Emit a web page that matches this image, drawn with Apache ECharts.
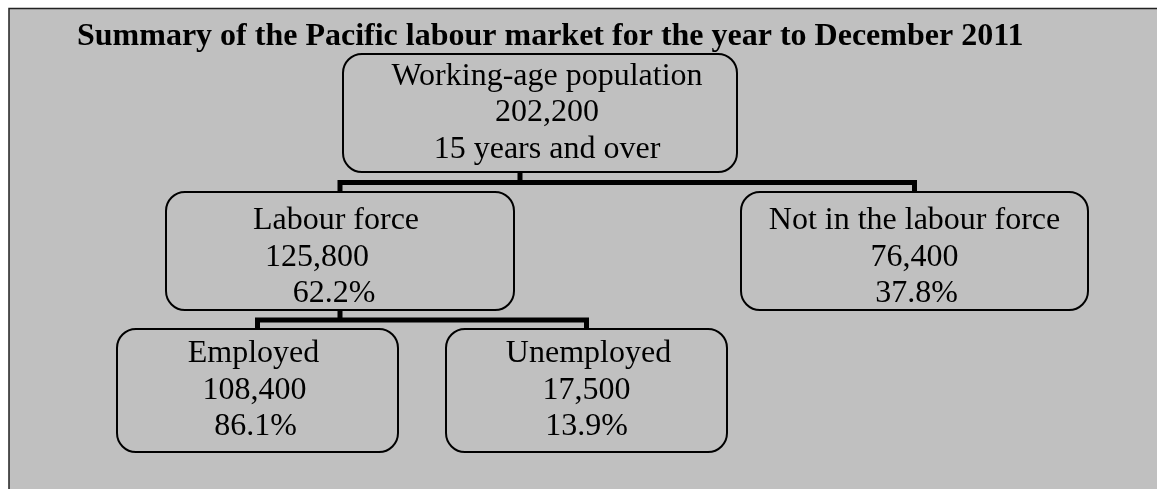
<!DOCTYPE html>
<html>
<head>
<meta charset="utf-8">
<style>
html,body{margin:0;padding:0;background:#ffffff;}
#chart{width:1157px;height:489px;}
</style>
<script src="https://cdn.jsdelivr.net/npm/echarts@6/dist/echarts.min.js"></script>
</head>
<body>
<div id="chart"></div>
<script>
// ---------- data ----------
const titleText = 'Summary of the Pacific labour market for the year to December 2011';
const nodeNames = ['Working-age population', 'Labour force', 'Not in the labour force', 'Employed', 'Unemployed'];
const nodeValues = [202200, 125800, 76400, 108400, 17500];
const nodeShares = [null, 62.2, 37.8, 86.1, 13.9];
const rootNote = '15 years and over';
const nodeParents = [-1, 0, 0, 1, 1];

// ---------- layout (diagram units = panel pixels) ----------
const layout = {
  boxes: [[343, 54, 737, 172], [166, 192, 514, 310], [741, 192, 1088, 310], [117, 329, 398, 452], [446, 329, 727, 452]],
  textDx: [[7, 7, 7], [-4, -23, -6], [0, 0, 2], [-4, -3, -2], [2, 0, 0]],
  textDy: [0, 6.5, 6.5, 0, 0],
  lineGap: 36.5,
  stubX: {0: 520, 1: 340},
  busY: {0: 182.5, 1: 320}
};

function fmt(v) { return v.toLocaleString('en-US'); }
function nodeLines(i) {
  return [nodeNames[i], fmt(nodeValues[i]), i === 0 ? rootNote : nodeShares[i].toFixed(1) + '%'];
}

const boxData = nodeNames.map((n, i) => [i, 0]);
const parentData = [];
nodeParents.forEach((p) => { if (p >= 0 && !parentData.some(d => d[0] === p)) parentData.push([p, 0]); });

const chart = echarts.init(document.getElementById('chart'), null, {renderer: 'canvas'});
const FONT = '"Liberation Serif", "Times New Roman", serif';

chart.setOption({
  animation: false,
  backgroundColor: '#ffffff',
  graphic: [{
    type: 'rect', z: -10, silent: true,
    shape: {x: 9, y: 8.5, width: 1160, height: 490},
    style: {fill: '#c0c0c0', stroke: '#222222', lineWidth: 1.5}
  }],
  title: {
    text: titleText, left: 72, top: 16,
    textStyle: {fontFamily: FONT, fontWeight: 'bold', fontSize: 32, color: '#000000'}
  },
  grid: {left: 0, right: 0, top: 0, bottom: 0},
  xAxis: {type: 'value', min: 0, max: 1157, show: false},
  yAxis: {type: 'value', min: 0, max: 489, inverse: true, show: false},
  series: [
    {
      type: 'custom', name: 'connectors', coordinateSystem: 'cartesian2d', clip: false, silent: true, z: 2,
      data: parentData,
      renderItem: function (params, api) {
        const p = api.value(0);
        const pb = layout.boxes[p];
        const kids = nodeParents.map((q, i) => q === p ? i : -1).filter(i => i >= 0);
        const busY = layout.busY[p];
        const stubX = layout.stubX[p];
        const xs = kids.map(k => (layout.boxes[k][0] + layout.boxes[k][2]) / 2);
        const children = [];
        const s1 = api.coord([stubX, pb[3]]);
        const s2 = api.coord([stubX, busY]);
        children.push({type: 'line', shape: {x1: s1[0], y1: s1[1], x2: s2[0], y2: s2[1]},
          style: {stroke: '#000', lineWidth: 5, lineCap: 'butt'}});
        const pts = [];
        const first = kids[0], last = kids[kids.length - 1];
        pts.push(api.coord([xs[0], layout.boxes[first][1]]));
        pts.push(api.coord([xs[0], busY]));
        pts.push(api.coord([xs[xs.length - 1], busY]));
        pts.push(api.coord([xs[xs.length - 1], layout.boxes[last][1]]));
        children.push({type: 'polyline', shape: {points: pts},
          style: {stroke: '#000', fill: null, lineWidth: 5, lineJoin: 'miter', lineCap: 'butt'}});
        for (let j = 1; j < kids.length - 1; j++) {
          const a = api.coord([xs[j], busY]);
          const b = api.coord([xs[j], layout.boxes[kids[j]][1]]);
          children.push({type: 'line', shape: {x1: a[0], y1: a[1], x2: b[0], y2: b[1]},
            style: {stroke: '#000', lineWidth: 5}});
        }
        return {type: 'group', children: children};
      }
    },
    {
      type: 'custom', name: 'boxes', coordinateSystem: 'cartesian2d', clip: false, silent: true, z: 3,
      data: boxData,
      renderItem: function (params, api) {
        const i = api.value(0);
        const b = layout.boxes[i];
        const p1 = api.coord([b[0], b[1]]);
        const p2 = api.coord([b[2], b[3]]);
        const cx = (p1[0] + p2[0]) / 2;
        const cy = (p1[1] + p2[1]) / 2 + layout.textDy[i];
        const lines = nodeLines(i);
        const children = [{
          type: 'rect',
          shape: {x: p1[0], y: p1[1], width: p2[0] - p1[0], height: p2[1] - p1[1], r: 19},
          style: {fill: 'rgba(0,0,0,0)', stroke: '#000', lineWidth: 2}
        }];
        lines.forEach((t, k) => {
          children.push({
            type: 'text',
            style: {
              text: t, x: cx + layout.textDx[i][k], y: cy + (k - 1) * layout.lineGap,
              align: 'center', verticalAlign: 'middle',
              font: '32px ' + FONT, fill: '#000'
            }
          });
        });
        return {type: 'group', children: children};
      }
    }
  ]
});
</script>
</body>
</html>
